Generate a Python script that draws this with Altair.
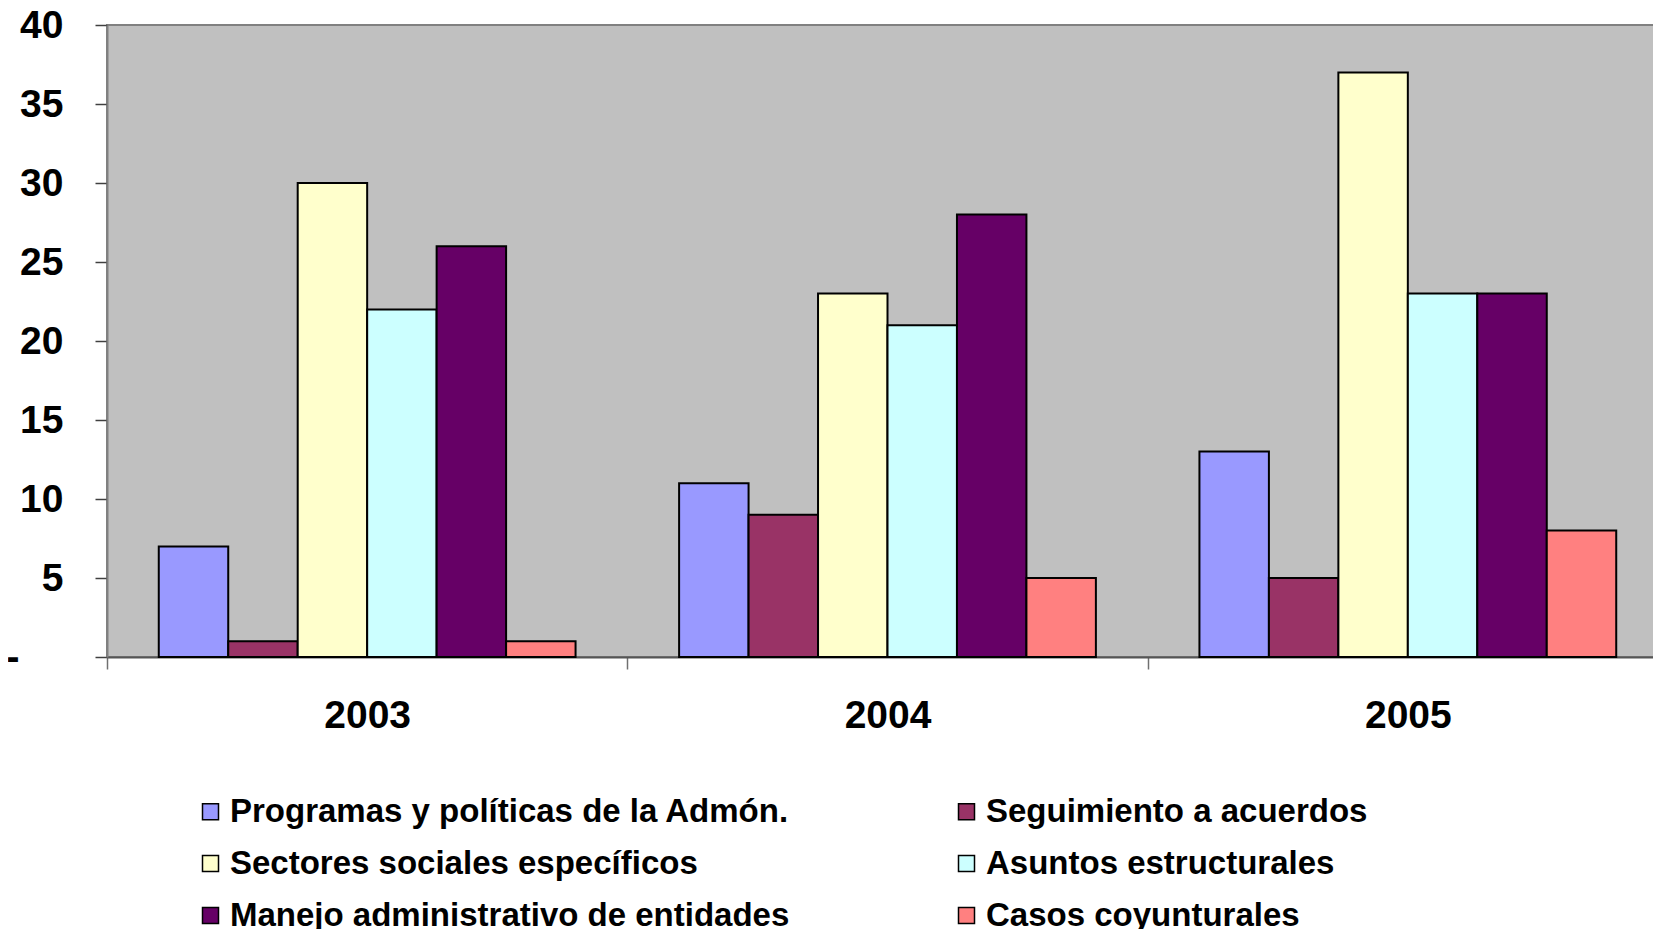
import altair as alt
import pandas as pd

years = ["2003", "2004", "2005"]
series = [
    "Programas y políticas de la Admón.",
    "Seguimiento a acuerdos",
    "Sectores sociales específicos",
    "Asuntos estructurales",
    "Manejo administrativo de entidades",
    "Casos coyunturales",
]
colors = ["#9999FF", "#993366", "#FFFFCC", "#CCFFFF", "#660066", "#FF8080"]

programas = [7, 11, 13]
seguimiento = [1, 9, 5]
sectores = [30, 23, 37]
asuntos = [22, 21, 23]
manejo = [26, 28, 23]
casos = [1, 5, 8]

y_ticks = [0, 5, 10, 15, 20, 25, 30, 35, 40]

rows = []
for s, vals in zip(series, [programas, seguimiento, sectores, asuntos, manejo, casos]):
    for yr, v in zip(years, vals):
        rows.append({"year": yr, "serie": s, "valor": v})
df = pd.DataFrame(rows)

# legend fills column by column: reorder so rows read as in the original
legend_order = [series[i] for i in (0, 2, 4, 1, 3, 5)]
legend_colors = [colors[i] for i in (0, 2, 4, 1, 3, 5)]

FONT = "Liberation Sans"
W = 1561
STEP = W / 3
SVG_W = 1645

chart = alt.Chart(df).mark_bar(stroke="black", strokeWidth=2).encode(
    x=alt.X(
        "year:N",
        sort=years,
        scale=alt.Scale(paddingInner=0.199, paddingOuter=0.0995),
        axis=alt.Axis(
            title=None,
            labelAngle=0,
            tickOffset=-STEP / 2,
            labelOffset=STEP / 2,
            tickSize=12,
            tickColor="#707070",
            tickWidth=1.5,
            domainColor="#555555",
            domainWidth=2,
            labelFont=FONT,
            labelFontSize=39,
            labelFontWeight="bold",
            labelColor="black",
            labelPadding=27,
            grid=False,
        ),
    ),
    xOffset=alt.XOffset("serie:N", sort=series),
    y=alt.Y(
        "valor:Q",
        scale=alt.Scale(domain=[0, 40], nice=False),
        axis=alt.Axis(
            title=None,
            values=y_ticks,
            labelExpr="datum.value == 0 ? '-' : datum.label",
            tickSize=12,
            tickColor="#404040",
            tickWidth=1.5,
            domainColor="#808080",
            domainWidth=2,
            labelFont=FONT,
            labelFontSize=39,
            labelFontWeight="bold",
            labelColor="black",
            labelPadding={"condition": {"test": "datum.value == 0", "value": 76}, "value": 32},
            grid=False,
        ),
    ),
    color=alt.Color(
        "serie:N",
        sort=legend_order,
        scale=alt.Scale(domain=legend_order, range=legend_colors),
        legend=alt.Legend(
            title=None,
            orient="none",
            legendX=87,
            legendY=770,
            columns=2,
            columnPadding=160,
            rowPadding=18,
            symbolType="square",
            symbolSize=256,
            symbolStrokeColor="black",
            symbolStrokeWidth=1.5,
            symbolOpacity=1,
            labelFont=FONT,
            labelFontSize=33,
            labelFontWeight="bold",
            labelColor="black",
            labelOffset=3,
            labelLimit=1000,
            padding=0,
        ),
    ),
).properties(
    width=W,
    height=632,
    autosize=alt.AutoSizeParams(type="none"),
    padding={"left": 99, "top": 17, "right": SVG_W - 99 - W, "bottom": 272},
    background="white",
).configure_view(fill="#C0C0C0", stroke="#808080", strokeWidth=2)

chart.save("out.html", embed_options={"renderer": "svg", "actions": False})
